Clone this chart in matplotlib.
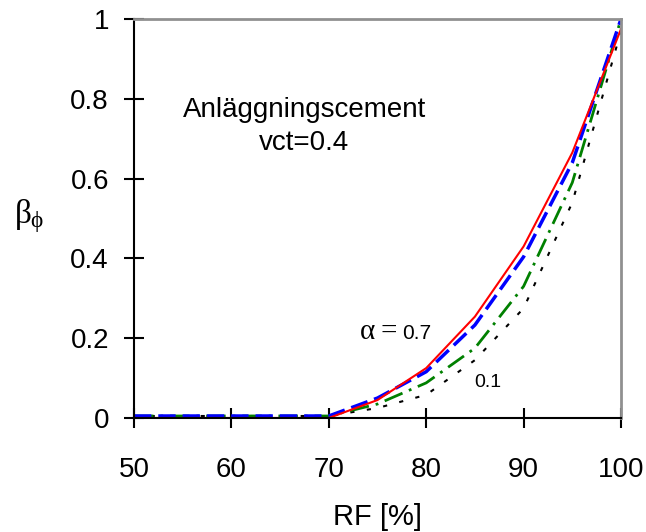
import matplotlib
matplotlib.use("Agg")
import matplotlib.pyplot as plt

plt.rcParams['font.family'] = ['Liberation Sans', 'DejaVu Sans']
plt.rcParams['mathtext.fontset'] = 'custom'
plt.rcParams['mathtext.rm'] = 'Liberation Serif'
plt.rcParams['mathtext.it'] = 'Liberation Serif'

# RF [%] och beta_phi for olika alfa
rf = [50, 55, 60, 65, 70, 75, 80, 85, 90, 95, 100]
beta_07 = [0.0, 0.0, 0.0, 0.0, 0.0, 0.045, 0.125, 0.254, 0.43, 0.665, 0.975]
beta_05 = [0.005, 0.005, 0.005, 0.005, 0.005, 0.05, 0.116, 0.233, 0.404, 0.64, 1.0]
beta_03 = [0.005, 0.005, 0.005, 0.005, 0.005, 0.035, 0.088, 0.175, 0.33, 0.59, 1.0]
beta_01 = [0.005, 0.005, 0.005, 0.005, 0.005, 0.025, 0.058, 0.145, 0.275, 0.54, 0.97]

xticks = [50, 60, 70, 80, 90, 100]
yticks = [0, 0.2, 0.4, 0.6, 0.8, 1]
ylabels = ['0', '0.2', '0.4', '0.6', '0.8', '1']

fig = plt.figure(figsize=(6.46, 5.32), dpi=100)
ax = fig.add_axes([0.2074, 0.2143, 0.7539, 0.75])

ax.plot(rf, beta_01, color='black', linestyle=(0, (2, 6)), linewidth=1.5)
ax.plot(rf, beta_03, color='green', linestyle=(0, (7, 2.5, 1, 2.5)), linewidth=2)
ax.plot(rf, beta_05, color='blue', linestyle=(0, (5, 2)), linewidth=2.5)
ax.plot(rf, beta_07, color='red', linewidth=1.5)

ax.set_xlim(50, 100)
ax.set_ylim(0, 1)
ax.set_xticks(xticks)
ax.set_yticks(yticks)
ax.set_yticklabels(ylabels)
ax.tick_params(direction='inout', length=14, width=1.5, labelsize=20)
ax.tick_params(axis='x', pad=21)
ax.tick_params(axis='y', pad=11)

for s in ['left', 'bottom']:
    ax.spines[s].set_linewidth(1.5)
    ax.spines[s].set_color('black')
for s in ['top', 'right']:
    ax.spines[s].set_linewidth(2)
    ax.spines[s].set_color('#909090')

ax.set_xlabel('RF [%]', fontsize=21)
ax.xaxis.set_label_coords(0.5, -0.213)
ax.set_ylabel(r'$\beta_{\phi}$', fontsize=24, rotation=0, va='center')
ax.yaxis.set_label_coords(-0.215, 0.505)

ax.text(0.35, 0.772, 'Anläggningscement', transform=ax.transAxes,
        fontsize=20, ha='center', va='center')
ax.text(0.35, 0.689, 'vct=0.4', transform=ax.transAxes,
        fontsize=20, ha='center', va='center')
ax.text(0.463, 0.198, 'α', transform=ax.transAxes, fontsize=21,
        family='Liberation Serif', ha='left', va='baseline')
ax.text(0.507, 0.198, '=', transform=ax.transAxes, fontsize=21,
        family='Liberation Serif', ha='left', va='baseline')
ax.text(0.551, 0.198, '0.7', transform=ax.transAxes, fontsize=15,
        ha='left', va='baseline')
ax.text(0.699, 0.078, '0.1', transform=ax.transAxes, fontsize=14,
        ha='left', va='baseline')

fig.savefig('out.png', dpi=100)
